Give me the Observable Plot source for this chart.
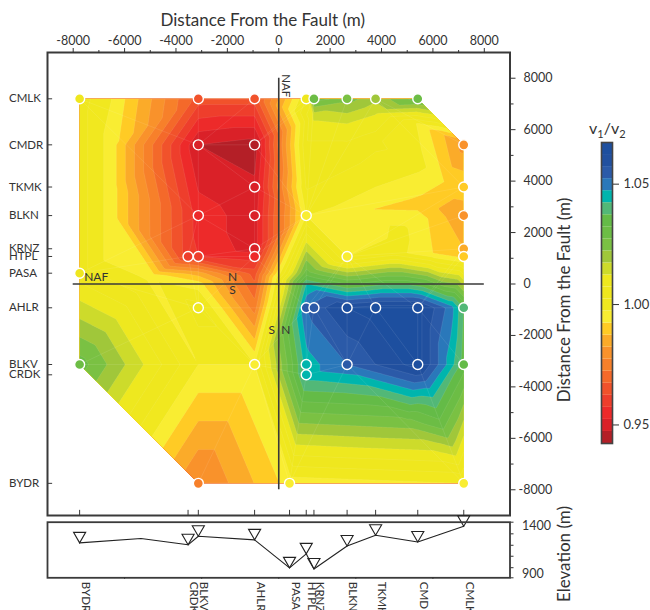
<!DOCTYPE html>
<html><head><meta charset="utf-8">
<script src="https://cdn.jsdelivr.net/npm/d3@7"></script>
<script src="https://cdn.jsdelivr.net/npm/@observablehq/plot@0.6"></script>
<style>
html,body{margin:0;padding:0;background:#fff;width:650px;height:610px;overflow:hidden}
#page{position:relative;width:650px;height:610px;overflow:hidden}
#page svg{position:absolute;overflow:visible;background:transparent}
#cb{position:absolute;left:589px;top:118px;font:16px Lato,sans-serif;color:#333}
#cb sub{font-size:11px}
</style></head><body><div id="page"></div>
<script>
const font = "Lato, 'Noto Sans', sans-serif";
const ink = "#3a3a3a";
// stations
const stationNames = ["BYDR","CRDK","BLKV","AHLR","PASA","HTPL","KRNZ","BLKN","TKMK","CMDR","CMLK"];
const stationX = [-7750,-3530,-3130,-940,420,1070,1370,2660,3770,5410,7200];
const stationY = [-7750,-3530,-3130,-925,420,1070,1370,2660,3770,5410,7200];
const elevation = [1225,1205,1295,1257,963,1110,952,1193,1305,1235,1400];
// elevation profile line (with one extra bend)
const profileX = [-7750,-5360,-3530,-3130,-940,420,1070,1370,2660,3770,5410,7200];
const profileE = [1225,1271,1205,1295,1257,963,1110,952,1193,1305,1235,1400];
// measured points
const ptX = [-7750,-3130,-940,1070,1370,2660,3770,5410,-3130,-940,7200,-940,7200,-3130,-940,1070,7200,-940,7200,-3530,-3130,-940,2660,7200,-7750,-3130,1070,1370,2660,3770,5410,7200,-7750,-940,1070,2660,5410,7200,1070,-3130,420,7200];
const ptY = [7200,7200,7200,7200,7200,7200,7200,7200,5410,5410,5410,3770,3770,2660,2660,2660,2660,1370,1370,1070,1070,1070,1070,1070,420,-925,-925,-925,-925,-925,-925,-925,-3130,-3130,-3130,-3130,-3130,-3130,-3530,-7750,-7750,-7750];
const ptV = [1.0048,.9648,.9648,1.0023,1.0298,1.0248,1.0188,1.0298,.9473,.9448,.9798,.9482,.9918,.9548,.9498,.9973,.9823,.9498,.9873,.9598,.9573,.9548,.9973,.9908,1.0048,1.0048,1.0523,1.0548,1.0623,1.0648,1.0648,1.0373,1.0298,.9973,1.0448,1.0523,1.0648,1.0348,1.0448,.9763,.9943,.9973];
// additional field nodes
const gridX = [-6500,-6500,-6500,-6500,-6500,-5000,-3130,-3130,-940,-940,1070,1070,1070,1070,2660,3770,2660,3770,1370,5350,5850,6430,5410,6430,5800,4650,6000,4500,5800,6000,-3130,6320,6850,5000,6700,6690,2660,3650,5600,3770];
const gridY = [7200,5410,3770,2660,1070,300,420,0,420,-925,5410,3770,420,0,5410,5410,6300,6650,6500,6260,6020,5800,4800,3970,2550,1970,1200,1200,-3900,-4400,-3130,-5480,-6500,-5400,-925,-3130,2660,2900,3100,3770];
const gridV = [.9973,.9948,.9948,.9948,.9948,.9958,.9848,.9948,.9648,.9748,1.0063,1.0028,1.0298,1.0423,1.0063,1.0033,1.0128,1.0128,1.0133,.9973,.9923,.9873,.9998,.9923,.9923,.9998,.9923,.9998,1.0498,1.0423,.9973,1.0298,1.0148,1.0248,1.0498,1.0448,.9948,.9923,.9903,.9973];
// colour bands, low to high
const levels = d3.range(26).map(k => 0.9423 + 0.005*k);
const bandColors = ["#b41f27","#da2128","#ed2a2a","#ee3e2c","#f1522b","#f4692a","#f7802a","#f9922b","#fbab29","#ffcb25","#f9ed32","#f1e81f","#efe71e","#eee81f","#cddb2b","#a0c73a","#7ac143","#6cbd45","#64bb47","#52b877","#00b5ad","#2a78ba","#2b5aa8","#21509f","#1d4f9f"];
// outline of the measured area
const hullX = [-7750,5410,7200,7200,-3130,-7750,-7750];
const hullY = [7200,7200,5410,-7750,-7750,-3130,7200];
// axis ticks
const mainPos = d3.range(0,8001,2000);
const mainNeg = d3.range(-8000,0,2000);
const mainMinor = d3.range(-7000,8000,2000);
const blank = () => "";
const plain = d => String(d).replace("−","-");

const field = [...ptX.map((x,i)=>({x,y:ptY[i],v:ptV[i]})), ...gridX.map((x,i)=>({x,y:gridY[i],v:gridV[i]}))];
const points = ptX.map((x,i)=>({x,y:ptY[i],v:ptV[i]}));
const hull = {type:"Polygon",coordinates:[hullX.map((x,i)=>[x,hullY[i]])]};
const colorScale = {type:"threshold",domain:levels.slice(1,25),range:bandColors};

const main = Plot.plot({
  width:650,height:520,marginLeft:47,marginRight:140.5,marginTop:52,marginBottom:5,
  style:{fontFamily:font,fontSize:"12.5px",color:"#333",background:"transparent"},
  x:{domain:[-9000,9000]},
  y:{domain:[-9000,9000]},
  color:colorScale,
  marks:[
    Plot.contour(field,{x:"x",y:"y",fill:"v",interpolate:"barycentric",thresholds:levels,pixelSize:1,clip:hull,stroke:"#fff",strokeOpacity:.18,strokeWidth:.5}),
    Plot.delaunayMesh(points,{x:"x",y:"y",stroke:"#fff",strokeOpacity:.18,strokeWidth:.5,clip:hull}),
    Plot.ruleX([0],{y1:-8000,y2:8000,stroke:ink,strokeWidth:1.6}),
    Plot.ruleY([0],{x1:-8000,x2:8000,stroke:ink,strokeWidth:1.6}),
    Plot.dot(points,{x:"x",y:"y",fill:"v",r:5,stroke:"#fff",strokeWidth:1.4}),
    Plot.text(["NAF"],{x:0,y:8000,text:d=>d,rotate:90,textAnchor:"start",dx:7,dy:-4,fontSize:11.5}),
    Plot.text(["NAF"],{x:-8000,y:0,text:d=>d,textAnchor:"start",dx:11,dy:-7,fontSize:12}),
    Plot.text(["N"],{x:-1800,y:0,text:d=>d,dy:-7,fontSize:12}),
    Plot.text(["S"],{x:-1800,y:0,text:d=>d,dy:6,fontSize:12}),
    Plot.text(["S"],{x:0,y:-1800,text:d=>d,dx:-7,fontSize:12}),
    Plot.text(["N"],{x:0,y:-1800,text:d=>d,dx:7,fontSize:12}),
    Plot.frame({stroke:ink,strokeWidth:2}),
    Plot.axisX({anchor:"top",ticks:[...mainNeg,...mainPos],tickSize:5,tickPadding:3,label:null,tickFormat:plain}),
    Plot.axisX({anchor:"top",ticks:mainMinor,tickSize:3,tickFormat:blank,label:null}),
    Plot.axisY({anchor:"right",ticks:mainPos,tickSize:5,tickPadding:8.5,label:null,tickFormat:plain}),
    Plot.axisY({anchor:"right",ticks:mainNeg,tickSize:5,tickPadding:3.5,label:null,tickFormat:plain}),
    Plot.axisY({anchor:"right",ticks:mainMinor,tickSize:3,tickFormat:blank,label:null}),
    Plot.ruleX(stationX,{y1:-9000,y2:-8800,stroke:ink,strokeWidth:1}),
    Plot.ruleY(stationY,{x1:-9000,x2:-8800,stroke:ink,strokeWidth:1}),
    Plot.text(stationY,{y:d=>d,text:(d,i)=>stationNames[i],frameAnchor:"left",textAnchor:"start",dx:-38.5,fontSize:11.5}),
    Plot.text(["Distance From the Fault (m)"],{frameAnchor:"top",text:d=>d,dy:-39,dx:-16,fontSize:17}),
    Plot.text(["Distance From the Fault (m)"],{frameAnchor:"right",text:d=>d,rotate:-90,textAnchor:"middle",dx:55,dy:16,fontSize:17})
  ]
});
main.style.left="0";main.style.top="0";
document.getElementById("page").append(main);

const prof = Plot.plot({
  width:650,height:100,marginLeft:47,marginRight:140.5,marginTop:11.7,marginBottom:32.7,
  style:{fontFamily:font,fontSize:"12.5px",color:"#333",background:"transparent"},
  x:{domain:[-9000,9000],axis:null},
  y:{domain:[859,1442],axis:null},
  marks:[
    Plot.line(profileX,{x:d=>d,y:(d,i)=>profileE[i],stroke:"#222",strokeWidth:1.1}),
    Plot.dot(stationX,{x:d=>d,y:(d,i)=>elevation[i],symbol:"triangle",rotate:180,r:4.5,dy:-7,stroke:"#222",strokeWidth:1.1,fill:"none"}),
    Plot.frame({stroke:ink,strokeWidth:1.8}),
    Plot.axisY({anchor:"right",ticks:[900,1400],tickSize:0,tickPadding:12,label:null,tickFormat:plain}),
    Plot.axisY({anchor:"right",ticks:[859,965,1085,1200,1320,1442],tickSize:3,tickFormat:blank,label:null}),
    Plot.axisX({anchor:"bottom",ticks:[-6000,-3000,0,3000,6000],tickSize:1.5,tickFormat:blank,label:null}),
    Plot.text(stationX,{x:d=>d,text:(d,i)=>stationNames[i],frameAnchor:"bottom",rotate:90,textAnchor:"start",dy:4,dx:2,fontSize:11.5}),
    Plot.text(["Elevation (m)"],{frameAnchor:"right",text:d=>d,rotate:-90,textAnchor:"middle",dx:55,dy:4,fontSize:17})
  ]
});
prof.style.left="0";prof.style.top="510px";
document.getElementById("page").append(prof);

const bands = bandColors.map((c,i)=>({y1:levels[i],y2:levels[i+1],c}));
const bar = Plot.plot({
  width:60,height:301+10,marginLeft:1,marginRight:48,marginTop:5,marginBottom:5,
  style:{fontFamily:font,fontSize:"13px",color:"#333",background:"transparent"},
  x:{domain:[0,1],axis:null},
  y:{domain:[levels[0],levels[25]]},
  marks:[
    Plot.rect(bands,{x1:0,x2:1,y1:"y1",y2:"y2",fill:"c"}),
    Plot.frame({stroke:"#444",strokeWidth:1.6}),
    Plot.axisY({anchor:"right",ticks:[.95,1,1.05],tickSize:6,tickPadding:5,label:null,tickFormat:d3.format(".2f")})
  ]
});
bar.style.left="600px";bar.style.top="137px";
document.getElementById("page").append(bar);
const cb=document.createElement("div");cb.id="cb";cb.innerHTML="v<sub>1</sub>/v<sub>2</sub>";
document.getElementById("page").append(cb);
</script></body></html>
